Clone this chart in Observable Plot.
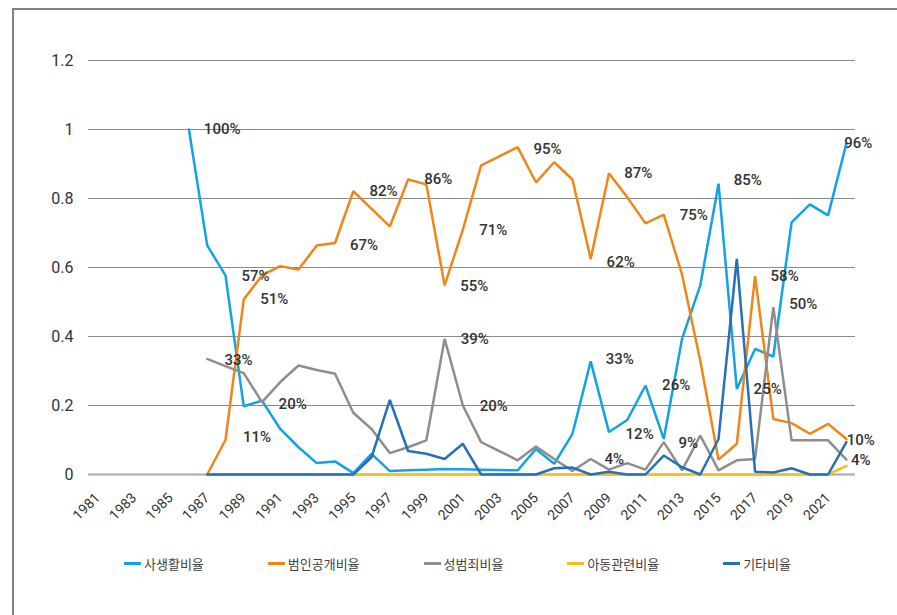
<!DOCTYPE html>
<html><head><meta charset="utf-8">
<script src="https://cdn.jsdelivr.net/npm/d3@7"></script>
<script src="https://cdn.jsdelivr.net/npm/@observablehq/plot@0.6"></script>
<style>
html,body{margin:0;padding:0;background:#fff;}
#wrap{position:relative;width:897px;height:615px;overflow:hidden;font-family:Roboto,"Noto Sans CJK KR",sans-serif;}
#frame{position:absolute;left:12px;top:8px;width:900px;height:620px;border-top:2px solid #808080;border-left:2px solid #808080;}
#chart{position:absolute;left:0;top:0;}
#legend{position:absolute;left:124px;top:554px;display:flex;gap:64px;font:13px "Noto Sans CJK KR";color:#404040;}
.item{display:flex;align-items:center;white-space:nowrap;}
.sw{width:17px;height:3px;margin-right:3px;}
</style></head><body>
<div id="wrap"><div id="frame"></div><div id="chart"></div><div id="legend"></div></div>
<script>
const years = [1981,1982,1983,1984,1985,1986,1987,1988,1989,1990,1991,1992,1993,1994,1995,1996,1997,1998,1999,2000,2001,2002,2003,2004,2005,2006,2007,2008,2009,2010,2011,2012,2013,2014,2015,2016,2017,2018,2019,2020,2021,2022];
const xTickYears = [1981,1983,1985,1987,1989,1991,1993,1995,1997,1999,2001,2003,2005,2007,2009,2011,2013,2015,2017,2019,2021];
const yTicks = [0,0.2,0.4,0.6,0.8,1,1.2];

const seriesNames = ["사생활비율","범인공개비율","성범죄비율","아동관련비율","기타비율"];
const seriesColors = ["#12a3e3","#f08519","#8e8e8e","#f9be1a","#2770b8"];

const privacy = [null,null,null,null,null,1.0,0.664,0.577,0.198,0.214,0.132,0.079,0.033,0.038,0.004,0.06,0.01,0.012,0.014,0.016,0.015,0.014,0.013,0.012,0.074,0.031,0.118,0.328,0.123,0.158,0.258,0.103,0.393,0.548,0.843,0.248,0.364,0.342,0.731,0.783,0.751,0.959];
const criminal = [null,null,null,null,null,null,0,0.10,0.507,0.577,0.604,0.594,0.664,0.671,0.821,0.77,0.719,0.855,0.841,0.548,0.71,0.896,0.922,0.949,0.847,0.905,0.855,0.625,0.873,0.804,0.728,0.753,0.58,0.33,0.043,0.089,0.575,0.161,0.149,0.118,0.147,0.103];
const sexCrime = [null,null,null,null,null,null,0.335,0.314,0.294,0.21,0.268,0.316,0.303,0.292,0.179,0.132,0.062,0.079,0.099,0.393,0.2,0.094,0.068,0.041,0.081,0.045,0.01,0.045,0.014,0.033,0.014,0.094,0.012,0.113,0.012,0.041,0.045,0.485,0.099,0.099,0.099,0.043];
const child = [null,null,null,null,null,null,0,0,0,0,0,0,0,0,0,0,0,0,0,0,0,0,0,0,0,0,0,0,0,0,0,0,0,0,0,0,0,0,0,0,0,0.025];
const other = [null,null,null,null,null,null,0,0,0,0,0,0,0,0,0,0.05,0.216,0.068,0.06,0.045,0.089,0,0,0,0,0.018,0.02,0,0.008,0,0,0.055,0.021,0,0.103,0.625,0.008,0.006,0.018,0,0,0.094];

const labelTexts = ["100%","57%","51%","33%","20%","11%","67%","82%","86%","55%","71%","39%","20%","95%","87%","62%","33%","12%","4%","75%","26%","9%","85%","58%","50%","25%","96%","10%","4%"];
const labelYears = [1987.82,1989.65,1990.67,1988.72,1991.68,1989.73,1995.59,1996.66,1999.65,2001.62,2002.66,2001.65,2002.69,2005.64,2010.6,2009.64,2009.59,2010.68,2009.29,2013.64,2012.68,2013.34,2016.6,2018.62,2019.64,2017.69,2022.65,2022.79,2022.79];
const labelValues = [1.0,0.575,0.509,0.332,0.203,0.108,0.666,0.821,0.857,0.546,0.707,0.391,0.198,0.944,0.874,0.615,0.335,0.118,0.043,0.753,0.258,0.092,0.852,0.575,0.495,0.246,0.959,0.099,0.041];

const seriesValues = [privacy, criminal, sexCrime, child, other];
const table = [];
seriesNames.forEach((name, i) => {
  years.forEach((yr, j) => {
    const v = seriesValues[i][j];
    if (v !== null) table.push({series: name, year: yr, value: v});
  });
});
const labels = labelTexts.map((t, i) => ({text: t, year: labelYears[i], value: labelValues[i]}));

const chart = Plot.plot({
  width: 897,
  height: 545,
  marginLeft: 88,
  marginRight: 42,
  marginTop: 60,
  marginBottom: 71,
  x: {domain: [1980.5, 2022.5], axis: null},
  y: {domain: [0, 1.2], axis: null},
  color: {domain: seriesNames, range: seriesColors},
  style: {fontFamily: "Roboto, sans-serif", color: "#333", background: "transparent", overflow: "visible"},
  marks: [
    Plot.ruleY(yTicks.filter(d => d > 0), {stroke: "#8a8a8a", strokeWidth: 1}),
    Plot.ruleY([0], {stroke: "#a8a8a8", strokeWidth: 2}),
    Plot.axisY({ticks: yTicks, tickFormat: d => String(d), tickSize: 0, tickPadding: 15, fontSize: 16, label: null}),
    Plot.axisX({ticks: xTickYears, tickFormat: d => String(d), tickRotate: -45, tickSize: 0, tickPadding: 21, fontSize: 14, label: null}),
    Plot.line(table, {x: "year", y: "value", z: "series", stroke: "series", strokeWidth: 2.5, strokeLinejoin: "miter"}),
    Plot.text(labels, {x: "year", y: "value", text: "text", fontSize: 15, fontWeight: 500, fill: "#333"})
  ]
});
document.getElementById("chart").appendChild(chart);

const legend = document.getElementById("legend");
seriesNames.forEach((name, i) => {
  const item = document.createElement("div");
  item.className = "item";
  const sw = document.createElement("span");
  sw.className = "sw";
  sw.style.background = seriesColors[i];
  const tx = document.createElement("span");
  tx.textContent = name;
  item.appendChild(sw);
  item.appendChild(tx);
  legend.appendChild(item);
});
</script>
</body></html>
